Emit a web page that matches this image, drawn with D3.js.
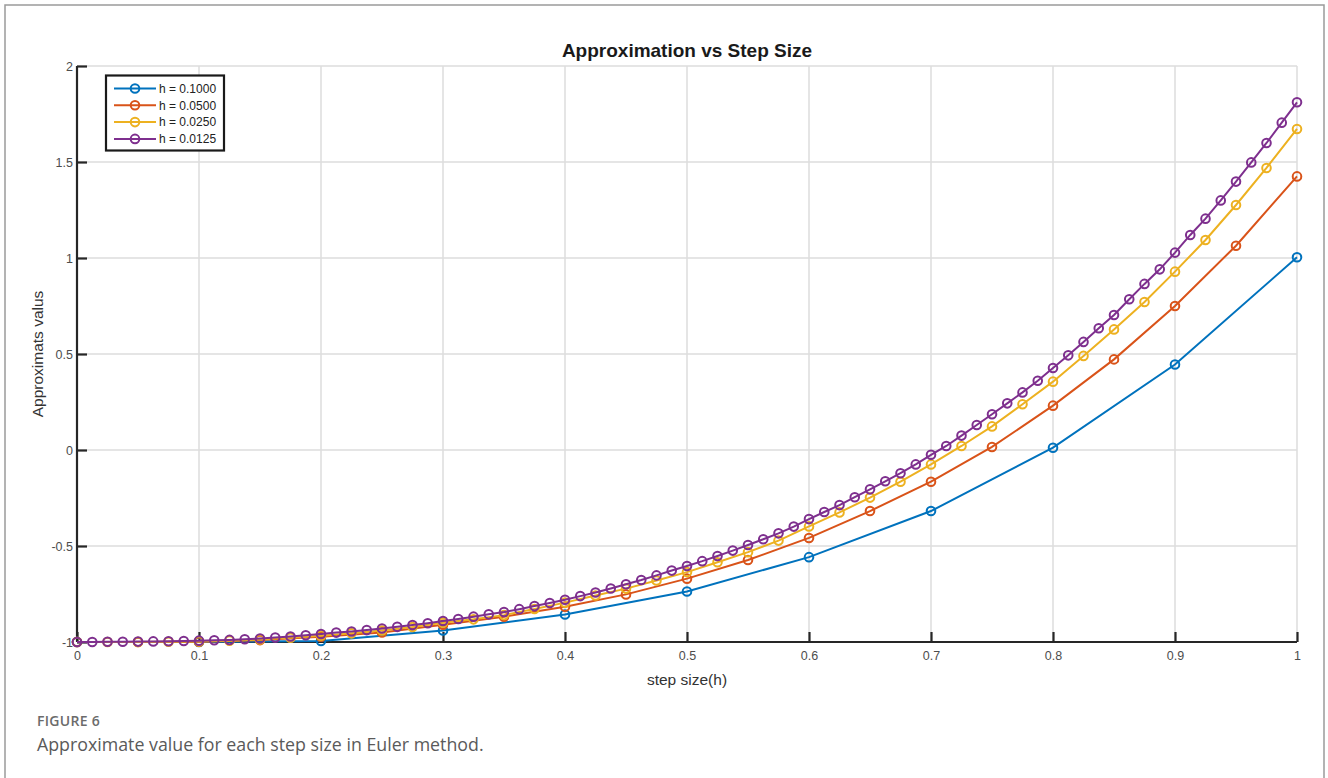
<!DOCTYPE html>
<html>
<head>
<meta charset="utf-8">
<script src="https://cdn.jsdelivr.net/npm/d3@7"></script>
<style>
  body { margin: 0; background: #fff; }
  svg { display: block; }
</style>
</head>
<body>
<svg id="chart" width="1328" height="778"></svg>
<script>
// step sizes of each Euler run (legend order)
const stepSizes = [0.1, 0.05, 0.025, 0.0125];
const seriesNames = ["h = 0.1000", "h = 0.0500", "h = 0.0250", "h = 0.0125"];
const seriesColors = ["#0072BD", "#D95319", "#EDB120", "#7E2F8E"];

// approximate y values
const valsH100 = [-1, -1, -0.995, -0.94, -0.857, -0.737, -0.558, -0.318, 0.012, 0.445, 1.004];
const valsH050 = [-1, -1, -0.999, -0.99, -0.973, -0.95, -0.91, -0.868, -0.816, -0.752, -0.67,
  -0.573, -0.458, -0.318, -0.165, 0.016, 0.231, 0.472, 0.75, 1.064, 1.425];
const valsH025 = [-1, -1, -1, -0.999, -0.997, -0.993, -0.987, -0.978, -0.967, -0.955, -0.94,
  -0.922, -0.9, -0.882, -0.86, -0.828, -0.795, -0.758, -0.722, -0.68, -0.636,
  -0.585, -0.532, -0.472, -0.398, -0.325, -0.248, -0.165, -0.075, 0.021, 0.123,
  0.238, 0.356, 0.49, 0.628, 0.771, 0.929, 1.094, 1.276, 1.469, 1.672];
const valsH0125 = [-1, -1, -0.999, -0.999, -0.998, -0.997, -0.996, -0.995, -0.993, -0.991, -0.989,
  -0.986, -0.982, -0.977, -0.971, -0.965, -0.958, -0.951, -0.945, -0.938, -0.93,
  -0.921, -0.912, -0.902, -0.891, -0.88, -0.868, -0.856, -0.844, -0.829, -0.813,
  -0.797, -0.78, -0.761, -0.742, -0.721, -0.699, -0.677, -0.653, -0.628, -0.604,
  -0.579, -0.552, -0.524, -0.495, -0.465, -0.434, -0.399, -0.36, -0.323, -0.287,
  -0.246, -0.205, -0.163, -0.121, -0.075, -0.025, 0.021, 0.075, 0.13, 0.186,
  0.243, 0.30, 0.361, 0.427, 0.493, 0.563, 0.634, 0.703, 0.785, 0.865,
  0.941, 1.028, 1.12, 1.205, 1.3, 1.398, 1.498, 1.599, 1.705, 1.811];

const xTicks = [0, 0.1, 0.2, 0.3, 0.4, 0.5, 0.6, 0.7, 0.8, 0.9, 1];
const yTicks = [-1, -0.5, 0, 0.5, 1, 1.5, 2];

const allVals = [valsH100, valsH050, valsH025, valsH0125];
const series = allVals.map((vals, k) => ({
  name: seriesNames[k],
  color: seriesColors[k],
  points: vals.map((v, i) => ({x: i * stepSizes[k], y: v}))
}));

const svg = d3.select("#chart");
const font = "'Liberation Sans', Arial, Helvetica, sans-serif";

// outer figure frame
svg.append("rect")
  .attr("x", 5).attr("y", 5)
  .attr("width", 1319).attr("height", 790)
  .attr("fill", "none").attr("stroke", "#9a9a9a").attr("stroke-width", 1.5);

const plotLeft = 77, plotRight = 1297, plotTop = 66, plotBottom = 642;

const x = d3.scaleLinear().domain([0, 1]).range([plotLeft, plotRight]);
const y = d3.scaleLinear().domain([-1, 2]).range([plotBottom, plotTop]);

// grid
const grid = svg.append("g");
grid.selectAll("line.gx").data(xTicks).join("line")
  .attr("class", "gx")
  .attr("x1", d => x(d)).attr("x2", d => x(d))
  .attr("y1", plotTop).attr("y2", plotBottom)
  .attr("stroke", "#dcdcdc").attr("stroke-width", 1.5);
grid.selectAll("line.gy").data(yTicks).join("line")
  .attr("class", "gy")
  .attr("x1", plotLeft).attr("x2", plotRight)
  .attr("y1", d => y(d)).attr("y2", d => y(d))
  .attr("stroke", "#dcdcdc").attr("stroke-width", 1.5);

// axes, ticks pointing inward (plain hyphen for negatives, like MATLAB)
const axisX = d3.axisBottom(x).tickValues(xTicks).tickSize(-10).tickPadding(9)
  .tickFormat(d => String(d));
const axisY = d3.axisLeft(y).tickValues(yTicks).tickSize(-10).tickPadding(4)
  .tickFormat(d => String(d));

const gx = svg.append("g").attr("transform", `translate(0,${plotBottom})`).call(axisX);
const gy = svg.append("g").attr("transform", `translate(${plotLeft},0)`).call(axisY);

[gx, gy].forEach(g => {
  g.attr("font-size", null);
  g.select(".domain").attr("stroke", "#262626").attr("stroke-width", 2.2);
  g.selectAll(".tick line").attr("stroke", "#262626").attr("stroke-width", 2.2);
  g.selectAll(".tick text")
    .attr("fill", "#4d4d4d").style("font-family", font).style("font-size", "12.5px");
});
gx.select(".domain").attr("d", `M${plotLeft},0H${plotRight}`);
gy.select(".domain").attr("d", `M0,${plotBottom}V${plotTop}`);

// series
const line = d3.line().x(d => x(d.x)).y(d => y(d.y));
const plot = svg.append("g");
series.forEach(s => {
  plot.append("path")
    .datum(s.points)
    .attr("d", line)
    .attr("fill", "none").attr("stroke", s.color).attr("stroke-width", 2);
  plot.selectAll(null).data(s.points).join("circle")
    .attr("cx", d => x(d.x)).attr("cy", d => y(d.y))
    .attr("r", 4.3)
    .attr("fill", "none").attr("stroke", s.color).attr("stroke-width", 2);
});

// title and axis labels
svg.append("text")
  .attr("x", (plotLeft + plotRight) / 2).attr("y", 57)
  .attr("text-anchor", "middle")
  .style("font-family", font).style("font-size", "19px").style("font-weight", "bold")
  .attr("fill", "#1a1a1a")
  .text("Approximation vs Step Size");

svg.append("text")
  .attr("x", (plotLeft + plotRight) / 2).attr("y", 685)
  .attr("text-anchor", "middle")
  .style("font-family", font).style("font-size", "15.5px")
  .attr("fill", "#333")
  .text("step size(h)");

svg.append("text")
  .attr("transform", `translate(43,${(plotTop + plotBottom) / 2}) rotate(-90)`)
  .attr("text-anchor", "middle")
  .style("font-family", font).style("font-size", "15.5px")
  .attr("fill", "#333")
  .text("Approximats valus");

// legend
const legend = svg.append("g");
legend.append("rect")
  .attr("x", 106).attr("y", 75.5).attr("width", 118).attr("height", 75)
  .attr("fill", "#fff").attr("stroke", "#1a1a1a").attr("stroke-width", 2.2);
const rows = legend.selectAll("g.row").data(series).join("g")
  .attr("class", "row")
  .attr("transform", (d, i) => `translate(0,${88.5 + i * 16.8})`);
rows.append("line")
  .attr("x1", 114).attr("x2", 156)
  .attr("stroke", d => d.color).attr("stroke-width", 2);
rows.append("circle")
  .attr("cx", 135).attr("r", 4.3)
  .attr("fill", "none").attr("stroke", d => d.color).attr("stroke-width", 2);
rows.append("text")
  .attr("x", 159).attr("y", 4.3)
  .style("font-family", font).style("font-size", "12px")
  .attr("fill", "#222")
  .text(d => d.name);

// caption
svg.append("text")
  .attr("x", 37).attr("y", 726)
  .style("font-family", "'Open Sans', sans-serif").style("font-size", "14px")
  .style("font-weight", "600").style("letter-spacing", "0.3px")
  .attr("fill", "#6b6b6b")
  .text("FIGURE 6");
svg.append("text")
  .attr("x", 37).attr("y", 751)
  .style("font-family", "'Open Sans', sans-serif").style("font-size", "17.8px")
  .attr("fill", "#5a5a5a")
  .text("Approximate value for each step size in Euler method.");
</script>
</body>
</html>
